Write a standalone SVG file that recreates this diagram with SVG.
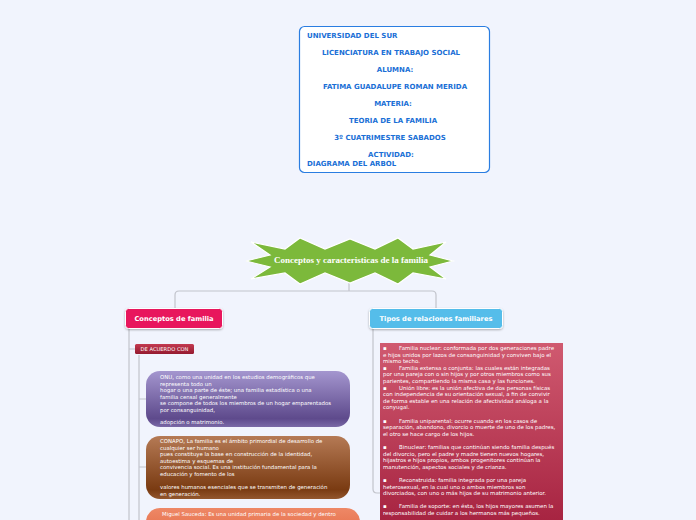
<svg xmlns="http://www.w3.org/2000/svg" width="696" height="520" viewBox="0 0 696 520">
<defs>
<style>
.info{font-family:"DejaVu Sans",Verdana,sans-serif;font-weight:bold;font-size:7px;fill:#1a6fd6}
.sm{font-family:"DejaVu Sans",Verdana,sans-serif;font-size:5.4px;fill:#ffffff}
.rt{font-family:"DejaVu Sans",Verdana,sans-serif;font-size:5.45px;fill:#ffffff}
.lbl{font-family:"DejaVu Sans",Verdana,sans-serif;font-weight:bold;font-size:6.7px;fill:#ffffff}
.conn{fill:none;stroke:#c2c4cc;stroke-width:1.2}
</style>
<linearGradient id="gPur" x1="0" y1="0" x2="0" y2="1"><stop offset="0" stop-color="#a496cf"/><stop offset="0.85" stop-color="#5e4a8c"/><stop offset="1" stop-color="#7a69a6"/></linearGradient>
<linearGradient id="gBr" x1="0" y1="0" x2="0" y2="1"><stop offset="0" stop-color="#b57a55"/><stop offset="0.85" stop-color="#7a3b12"/><stop offset="1" stop-color="#93572e"/></linearGradient>
<linearGradient id="gOr" x1="0" y1="0" x2="0" y2="1"><stop offset="0" stop-color="#ee8866"/><stop offset="1" stop-color="#e0603a"/></linearGradient>
<linearGradient id="gRed" x1="0" y1="0" x2="0" y2="1"><stop offset="0" stop-color="#d05a70"/><stop offset="1" stop-color="#a4203e"/></linearGradient>
<linearGradient id="gTag" x1="0" y1="0" x2="0" y2="1"><stop offset="0" stop-color="#c33a50"/><stop offset="1" stop-color="#951a30"/></linearGradient>
<filter id="sh" x="-10%" y="-20%" width="120%" height="150%"><feDropShadow dx="0" dy="1" stdDeviation="0.8" flood-color="#000" flood-opacity="0.3"/></filter>
</defs>
<rect width="696" height="520" fill="#f1f4fd"/>

<g id="connectors">
<path class="conn" d="M349 281 V291 M175 309 V295 Q175 291 179 291 H432 Q436 291 436 295 V309"/>
<path class="conn" d="M129 328 V520 M129 349 H135"/>
<path class="conn" d="M139 355 V520 M139 399 H146 M139 467 H146"/>
<path class="conn" d="M373 329 V489 Q373 493 377 493 H380"/>
</g>

<g id="info">
<rect x="299.5" y="26.5" width="190" height="146" rx="5" fill="#ffffff" stroke="#2a7de1" stroke-width="1.2"/>
<text class="info" x="307" y="37.5">UNIVERSIDAD DEL SUR</text>
<text class="info" x="391" y="54.5" text-anchor="middle">LICENCIATURA EN TRABAJO SOCIAL</text>
<text class="info" x="395" y="71.5" text-anchor="middle">ALUMNA:</text>
<text class="info" x="395" y="88.5" text-anchor="middle">FATIMA GUADALUPE ROMAN MERIDA</text>
<text class="info" x="393" y="105.5" text-anchor="middle">MATERIA:</text>
<text class="info" x="393" y="122.5" text-anchor="middle">TEORIA DE LA FAMILIA</text>
<text class="info" x="390" y="139.5" text-anchor="middle">3º CUATRIMESTRE SABADOS</text>
<text class="info" x="391" y="156.5" text-anchor="middle">ACTIVIDAD:</text>
<text class="info" x="307" y="165.5">DIAGRAMA DEL ARBOL</text>
</g>

<g id="root">
<polygon points="246,261 270,255 251,242 285,249 300,238 325,249 350,239 375,249 398,238 413,249 446,242 430,255 453,261 430,267 446,279 413,273 398,284 375,273 350,283 325,273 300,284 285,273 251,279 270,267" fill="#7cb93b" stroke="#ffffff" stroke-width="1.2"/>
<text x="351" y="263" text-anchor="middle" font-family="'Liberation Serif',serif" font-weight="bold" font-size="9" fill="#ffffff">Conceptos y caracteristicas de la familia</text>
</g>

<g id="conceptos">
<rect x="125.5" y="308.5" width="97" height="20" rx="3" fill="#e8195d" stroke="#ffffff" stroke-width="1" filter="url(#sh)"/>
<text class="lbl" x="174" y="321" text-anchor="middle">Conceptos de familia</text>
</g>

<g id="tipos">
<rect x="369.5" y="308.5" width="133" height="20" rx="3" fill="#55bdea" stroke="#ffffff" stroke-width="1" filter="url(#sh)"/>
<text class="lbl" x="436" y="321" text-anchor="middle">Tipos de relaciones familiares</text>
</g>

<g id="deacuerdo">
<rect x="135" y="344" width="59" height="10" rx="1.5" fill="url(#gTag)"/>
<text x="164.5" y="351.2" text-anchor="middle" font-family="'DejaVu Sans',Verdana,sans-serif" font-size="5.2" fill="#ffffff">DE ACUERDO CON</text>
</g>

<g id="onu">
<rect x="146" y="371" width="204" height="56" rx="14" fill="url(#gPur)"/>
<text class="sm"><tspan x="160" y="379">ONU, como una unidad en los estudios demográficos que</tspan><tspan x="160" y="385.5">representa todo un</tspan><tspan x="160" y="392">hogar o una parte de éste; una familia estadística o una</tspan><tspan x="160" y="398.5">familia censal generalmente</tspan><tspan x="160" y="405">se compone de todos los miembros de un hogar emparentados</tspan><tspan x="160" y="411.5">por consanguinidad,</tspan><tspan x="160" y="424">adopción o matrimonio.</tspan></text>
</g>

<g id="conapo">
<rect x="146" y="436" width="204" height="63" rx="14" fill="url(#gBr)"/>
<text class="sm"><tspan x="160" y="443">CONAPO, La familia es el ámbito primordial de desarrollo de</tspan><tspan x="160" y="449.5">cualquier ser humano</tspan><tspan x="160" y="456">pues constituye la base en construcción de la identidad,</tspan><tspan x="160" y="462.5">autoestima y esquemas de</tspan><tspan x="160" y="469">convivencia social. Es una institución fundamental para la</tspan><tspan x="160" y="475.5">educación y fomento de los</tspan><tspan x="160" y="489">valores humanos esenciales que se transmiten de generación</tspan><tspan x="160" y="495.5">en generación.</tspan></text>
</g>

<g id="miguel">
<rect x="146" y="508" width="214" height="40" rx="14" fill="url(#gOr)"/>
<text class="sm"><tspan x="162" y="516">Miguel Sauceda: Es una unidad primaria de la sociedad y dentro</tspan></text>
</g>

<g id="tiposTexto">
<rect x="380" y="343" width="183" height="190" fill="url(#gRed)"/>
<text class="rt">
<tspan x="383" y="350">▪</tspan><tspan x="399" y="350">Familia nuclear: conformada por dos generaciones padre</tspan>
<tspan x="383" y="356.6">e hijos unidos por lazos de consanguinidad y conviven bajo el</tspan>
<tspan x="383" y="363.2">mismo techo.</tspan>
<tspan x="383" y="369.8">▪</tspan><tspan x="399" y="369.8">Familia extensa o conjunta: las cuales están integradas</tspan>
<tspan x="383" y="376.4">por una pareja con o sin hijos y por otros miembros como sus</tspan>
<tspan x="383" y="383">parientes, compartiendo la misma casa y las funciones.</tspan>
<tspan x="383" y="389.6">▪</tspan><tspan x="399" y="389.6">Unión libre: es la unión afectiva de dos personas físicas</tspan>
<tspan x="383" y="396.2">con independencia de su orientación sexual, a fin de convivir</tspan>
<tspan x="383" y="402.8">de forma estable en una relación de afectividad análoga a la</tspan>
<tspan x="383" y="409.4">conyugal.</tspan>
<tspan x="383" y="422.6">▪</tspan><tspan x="399" y="422.6">Familia uniparental: ocurre cuando en los casos de</tspan>
<tspan x="383" y="429.2">separación, abandono, divorcio o muerte de uno de los padres,</tspan>
<tspan x="383" y="435.8">el otro se hace cargo de los hijos.</tspan>
<tspan x="383" y="449">▪</tspan><tspan x="399" y="449">Binuclear: familias que continúan siendo familia después</tspan>
<tspan x="383" y="455.6">del divorcio, pero el padre y madre tienen nuevos hogares,</tspan>
<tspan x="383" y="462.2">hijastros e hijos propios, ambos progenitores continúan la</tspan>
<tspan x="383" y="468.8">manutención, aspectos sociales y de crianza.</tspan>
<tspan x="383" y="482">▪</tspan><tspan x="399" y="482">Reconstruida: familia integrada por una pareja</tspan>
<tspan x="383" y="488.6">heterosexual, en la cual uno o ambos miembros son</tspan>
<tspan x="383" y="495.2">divorciados, con uno o más hijos de su matrimonio anterior.</tspan>
<tspan x="383" y="508.4">▪</tspan><tspan x="399" y="508.4">Familia de soporte: en ésta, los hijos mayores asumen la</tspan>
<tspan x="383" y="515">responsabilidad de cuidar a los hermanos más pequeños.</tspan>
</text>
</g>
</svg>
